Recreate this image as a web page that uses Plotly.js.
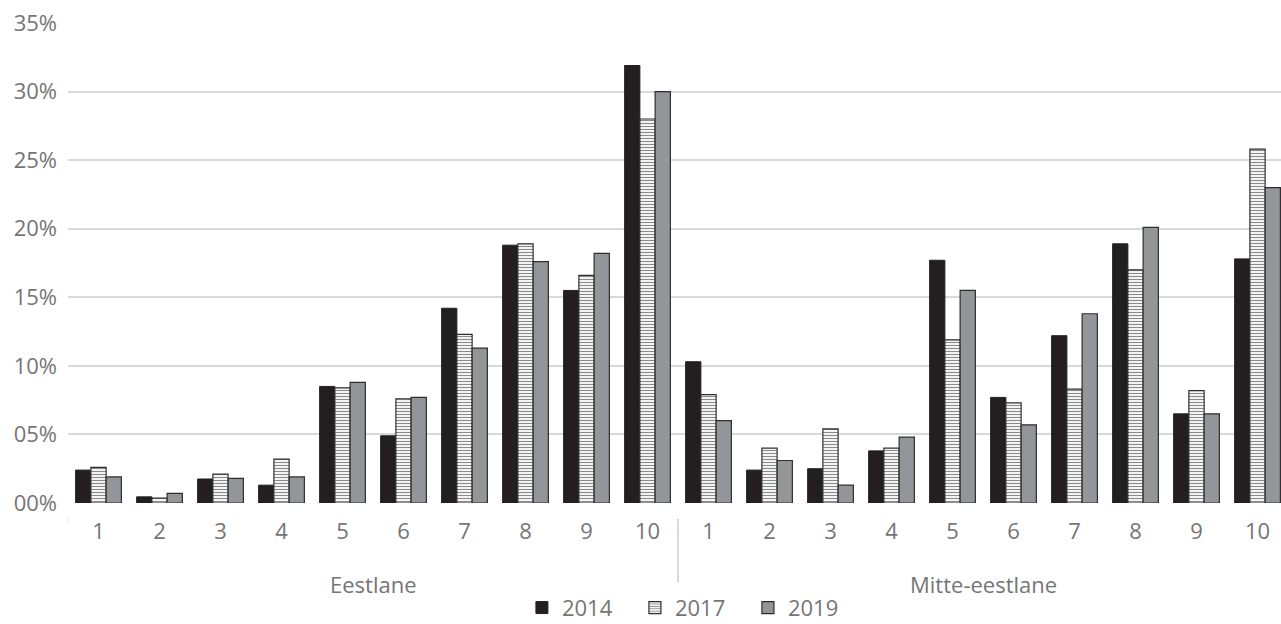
<!DOCTYPE html>
<html>
<head>
<meta charset="utf-8">
<script src="https://cdn.plot.ly/plotly-3.0.1.min.js"></script>
<style>
html,body{margin:0;padding:0;overflow:hidden;background:#fff;}
#chart{width:1290px;height:624px;}
</style>
</head>
<body>
<div id="chart"></div>
<script>
const groups = ["Eestlane", "Mitte-eestlane"];
const deciles = ["1","2","3","4","5","6","7","8","9","10"];
const years = ["2014", "2017", "2019"];

const estonian2014 = [2.4, 0.45, 1.75, 1.3, 8.5, 4.9, 14.2, 18.8, 15.5, 31.9];
const estonian2017 = [2.6, 0.35, 2.1, 3.2, 8.4, 7.6, 12.3, 18.9, 16.6, 28.0];
const estonian2019 = [1.9, 0.7, 1.8, 1.9, 8.8, 7.7, 11.3, 17.6, 18.2, 30.0];

const nonEstonian2014 = [10.3, 2.4, 2.5, 3.8, 17.7, 7.7, 12.2, 18.9, 6.5, 17.8];
const nonEstonian2017 = [7.9, 4.0, 5.4, 4.0, 11.9, 7.3, 8.3, 17.0, 8.2, 25.8];
const nonEstonian2019 = [6.0, 3.1, 1.3, 4.8, 15.5, 5.7, 13.8, 20.1, 6.5, 23.0];

const yTickVals = [0, 5, 10, 15, 20, 25, 30, 35];
const yTickText = ["00%", "05%", "10%", "15%", "20%", "25%", "30%", "35%"];

// unique category keys built from group + decile, labelled with the decile only
const xKeys = [];
const xLabels = [];
groups.forEach(g => deciles.forEach(d => { xKeys.push(g + " " + d); xLabels.push(d); }));

const seriesValues = [
  estonian2014.concat(nonEstonian2014),
  estonian2017.concat(nonEstonian2017),
  estonian2019.concat(nonEstonian2019)
];

const markerStyles = [
  {color: "#231f20", line: {color: "#231f20", width: 1}},
  {color: "#ffffff", line: {color: "#2e2e2e", width: 1.2},
   pattern: {shape: "-", fgcolor: "#8a8a8a", bgcolor: "#ffffff", size: 3, solidity: 0.4}},
  {color: "#939598", line: {color: "#2e2e2e", width: 1.2}}
];

const traces = years.map((y, i) => ({
  type: "bar",
  name: y,
  x: xKeys,
  y: seriesValues[i],
  marker: markerStyles[i],
  hoverinfo: "y+name"
}));

const textColor = "#757575";
const font = {family: "Open Sans, sans-serif", color: textColor, size: 22};

const groupAnnotations = groups.map((g, i) => ({
  text: g,
  xref: "paper", yref: "paper",
  x: (i + 0.5) / groups.length, y: -0.168,
  xanchor: "center", yanchor: "middle",
  showarrow: false,
  font: font
}));

const layout = {
  width: 1290,
  height: 624,
  margin: {l: 68, r: 2, t: 23, b: 121, autoexpand: false},
  paper_bgcolor: "#ffffff",
  plot_bgcolor: "#ffffff",
  font: font,
  barmode: "group",
  bargap: 0.25,
  bargroupgap: 0,
  showlegend: true,
  legend: {
    orientation: "h",
    xref: "paper",
    x: 0.511, xanchor: "center",
    yref: "container",
    y: 0.026, yanchor: "middle",
    entrywidth: 68,
    entrywidthmode: "pixels",
    font: font,
    traceorder: "normal"
  },
  xaxis: {
    type: "category",
    tickvals: xKeys,
    ticktext: xLabels,
    tickfont: font,
    showgrid: false,
    showline: false,
    zeroline: false,
    ticks: "",
    ticklabelstandoff: 13
  },
  yaxis: {
    range: [0, 35],
    tickvals: yTickVals,
    ticktext: yTickText,
    tickfont: font,
    showgrid: true,
    gridcolor: "#d9d9d9",
    gridwidth: 2,
    zeroline: false,
    showline: false,
    ticklabelstandoff: 10,
    fixedrange: true
  },
  annotations: groupAnnotations,
  shapes: [
    {type: "line", xref: "paper", yref: "paper", x0: 0.5, x1: 0.5, y0: -0.033, y1: -0.165,
     line: {color: "#d9d9d9", width: 2}},
    {type: "line", xref: "paper", yref: "paper", x0: 0, x1: 0, y0: -0.033, y1: -0.038,
     line: {color: "#d9d9d9", width: 1}}
  ]
};

Plotly.newPlot("chart", traces, layout, {displayModeBar: false, staticPlot: true});
</script>
</body>
</html>
